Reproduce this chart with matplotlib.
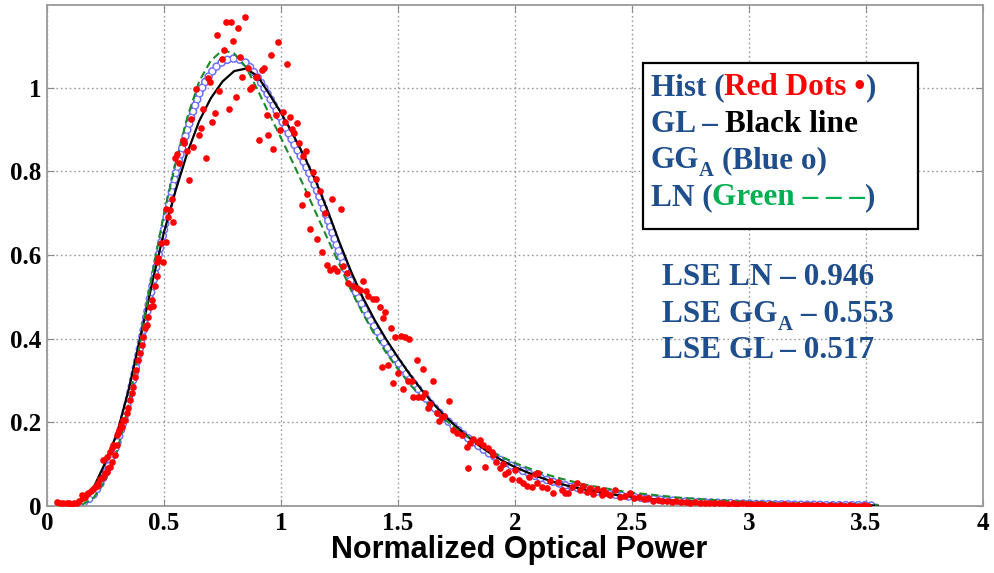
import numpy as np
import matplotlib.pyplot as plt
from matplotlib.patches import Rectangle

# fitted curves at x = 0.05 ... 3.55 (step 0.05)
gl_y = [0.000, 0.002, 0.012, 0.045, 0.105, 0.175, 0.280, 0.405, 0.535, 0.655,
        0.755, 0.845, 0.920, 0.975, 1.015, 1.040, 1.046, 1.028, 0.985, 0.940,
        0.890, 0.835, 0.775, 0.705, 0.630, 0.560, 0.498, 0.445, 0.398, 0.355,
        0.315, 0.278, 0.245, 0.215, 0.189, 0.165, 0.143, 0.124, 0.107, 0.093,
        0.081, 0.070, 0.060, 0.052, 0.045, 0.039, 0.034, 0.029, 0.025, 0.022,
        0.019, 0.016, 0.014, 0.012, 0.011, 0.009, 0.008, 0.007, 0.006, 0.006,
        0.005, 0.004, 0.004, 0.003, 0.003, 0.003, 0.002, 0.002, 0.002, 0.002,
        0.001]
ln_y = [0.000, 0.000, 0.003, 0.020, 0.062, 0.132, 0.245, 0.395, 0.555, 0.700,
        0.820, 0.930, 1.015, 1.065, 1.090, 1.082, 1.050, 0.995, 0.937, 0.880,
        0.822, 0.762, 0.700, 0.638, 0.577, 0.515, 0.460, 0.410, 0.366, 0.327,
        0.292, 0.260, 0.232, 0.207, 0.184, 0.164, 0.146, 0.130, 0.116, 0.103,
        0.092, 0.082, 0.073, 0.065, 0.058, 0.051, 0.046, 0.041, 0.036, 0.032,
        0.029, 0.026, 0.023, 0.020, 0.018, 0.016, 0.014, 0.013, 0.011, 0.010,
        0.009, 0.008, 0.007, 0.006, 0.006, 0.005, 0.005, 0.004, 0.004, 0.003,
        0.003]

# GG_A curve at x = 0.05 ... 3.55 (step 0.025)
gga_y = [0.000, 0.000, 0.001, 0.003, 0.006, 0.014, 0.028, 0.050, 0.078, 0.111,
         0.150, 0.199, 0.255, 0.318, 0.385, 0.455, 0.525, 0.594, 0.660, 0.730,
         0.795, 0.850, 0.900, 0.945, 0.985, 1.013, 1.035, 1.051, 1.062, 1.068,
         1.070, 1.067, 1.060, 1.045, 1.025, 1.003, 0.978, 0.952, 0.925, 0.899,
         0.872, 0.846, 0.820, 0.791, 0.760, 0.724, 0.685, 0.645, 0.605, 0.568,
         0.535, 0.505, 0.478, 0.452, 0.428, 0.405, 0.383, 0.362, 0.343, 0.324,
         0.305, 0.287, 0.270, 0.254, 0.238, 0.224, 0.210, 0.197, 0.185, 0.173,
         0.162, 0.151, 0.141, 0.131, 0.122, 0.114, 0.106, 0.099, 0.092, 0.086,
         0.080, 0.074, 0.069, 0.064, 0.060, 0.056, 0.052, 0.048, 0.045, 0.042,
         0.039, 0.036, 0.034, 0.031, 0.029, 0.027, 0.025, 0.023, 0.022, 0.020,
         0.019, 0.017, 0.016, 0.015, 0.014, 0.013, 0.012, 0.011, 0.011, 0.010,
         0.009, 0.009, 0.008, 0.008, 0.007, 0.007, 0.006, 0.006, 0.006, 0.005,
         0.005, 0.005, 0.004, 0.004, 0.004, 0.004, 0.003, 0.003, 0.003, 0.003,
         0.003, 0.002, 0.002, 0.002, 0.002, 0.002, 0.002, 0.002, 0.002, 0.001,
         0.001]

# histogram (red dots)
hist_x = [0.041, 0.056, 0.070, 0.084, 0.095, 0.105, 0.116, 0.127, 0.138, 0.148,
          0.155, 0.162, 0.170, 0.177, 0.187, 0.198, 0.205, 0.212, 0.219, 0.226,
          0.234, 0.241, 0.248, 0.241, 0.255, 0.255, 0.262, 0.269, 0.269, 0.276,
          0.276, 0.283, 0.291, 0.298, 0.298, 0.305, 0.309, 0.316, 0.319, 0.326,
          0.333, 0.340, 0.348, 0.355, 0.362, 0.369, 0.376, 0.380, 0.390, 0.397,
          0.405, 0.412, 0.419, 0.426, 0.433, 0.440, 0.447, 0.454, 0.462, 0.469,
          0.469, 0.476, 0.487, 0.497, 0.509, 0.509, 0.519, 0.526, 0.533, 0.540,
          0.547, 0.554, 0.565, 0.580, 0.587, 0.597, 0.607, 0.617, 0.625, 0.637,
          0.648, 0.657, 0.668, 0.678, 0.689, 0.697, 0.707, 0.718, 0.725, 0.736,
          0.746, 0.756, 0.765, 0.778, 0.786, 0.796, 0.808, 0.818, 0.825, 0.835,
          0.846, 0.860, 0.868, 0.875, 0.893, 0.899, 0.907, 0.918, 0.927, 0.939,
          0.946, 0.956, 0.967, 0.977, 0.986, 0.996, 1.007, 1.017, 1.026, 1.038,
          1.046, 1.056, 1.067, 1.078, 1.088, 1.096, 1.107, 1.112, 1.124, 1.138,
          1.148, 1.155, 1.167, 1.177, 1.188, 1.195, 1.209, 1.217, 1.228, 1.241,
          1.256, 1.266, 1.281, 1.288, 1.306, 1.323, 1.338, 1.349, 1.363, 1.373,
          1.395, 1.406, 1.423, 1.430, 1.437, 1.444, 1.459, 1.469, 1.480, 1.487,
          1.501, 1.511, 1.520, 1.530, 1.544, 1.548, 1.558, 1.566, 1.580, 1.587,
          1.601, 1.608, 1.615, 1.627, 1.637, 1.648, 1.665, 1.677, 1.687, 1.698,
          1.719, 1.737, 1.751, 1.772, 1.796, 1.800, 1.808, 1.822, 1.843, 1.850,
          1.865, 1.872, 1.886, 1.900, 1.907, 1.920, 1.936, 1.950, 1.957, 1.971,
          1.986, 2.000, 2.018, 2.036, 2.050, 2.060, 2.071, 2.085, 2.093, 2.100,
          2.114, 2.135, 2.150, 2.164, 2.185, 2.200, 2.214, 2.228, 2.245, 2.263,
          2.278, 2.290, 2.306, 2.320, 2.335, 2.350, 2.370, 2.377, 2.390, 2.406,
          2.427, 2.449, 2.470, 2.490, 2.510, 2.530, 2.550, 2.570, 2.590, 2.610,
          2.630, 2.650, 2.670, 2.690, 2.710, 2.730, 2.750, 2.770, 2.790, 2.810,
          2.830, 2.850, 2.870, 2.890, 2.910, 2.930, 2.950, 2.970, 2.990, 3.010,
          3.030, 3.050, 3.070, 3.090, 3.110, 3.130, 3.150, 3.170, 3.190, 3.210,
          3.230, 3.250, 3.270, 3.290, 3.310, 3.330, 3.350, 3.370, 3.390, 3.410,
          3.430, 3.450, 3.470, 3.490, 3.510]
hist_y = [0.010, 0.008, 0.007, 0.006, 0.007, 0.005, 0.006, 0.006, 0.012, 0.026,
          0.018, 0.022, 0.028, 0.030, 0.035, 0.040, 0.046, 0.048, 0.055, 0.064,
          0.068, 0.070, 0.078, 0.110, 0.082, 0.118, 0.090, 0.093, 0.130, 0.106,
          0.138, 0.146, 0.122, 0.146, 0.170, 0.174, 0.182, 0.194, 0.190, 0.206,
          0.206, 0.222, 0.234, 0.254, 0.270, 0.285, 0.309, 0.325, 0.349, 0.365,
          0.385, 0.405, 0.425, 0.433, 0.453, 0.477, 0.493, 0.478, 0.525, 0.549,
          0.584, 0.593, 0.628, 0.584, 0.632, 0.710, 0.692, 0.708, 0.735, 0.680,
          0.832, 0.842, 0.820, 0.876, 0.868, 0.850, 0.780, 0.926, 0.858, 0.998,
          0.888, 0.904, 0.950, 0.833, 1.023, 1.015, 0.918, 0.939, 1.127, 0.993,
          1.069, 1.091, 1.157, 0.950, 1.157, 1.112, 0.978, 1.142, 1.073, 1.026,
          1.169, 1.047, 0.998, 1.003, 1.027, 1.026, 0.876, 1.043, 1.047, 0.935,
          0.886, 1.079, 0.854, 0.935, 1.110, 0.900, 0.942, 0.918, 1.057, 0.931,
          0.901, 0.893, 0.917, 0.868, 0.720, 0.838, 0.850, 0.746, 0.662, 0.798,
          0.782, 0.638, 0.754, 0.608, 0.700, 0.577, 0.565, 0.734, 0.570, 0.561,
          0.711, 0.573, 0.557, 0.534, 0.525, 0.521, 0.517, 0.537, 0.513, 0.501,
          0.494, 0.494, 0.475, 0.333, 0.450, 0.463, 0.337, 0.425, 0.294, 0.403,
          0.319, 0.407, 0.279, 0.404, 0.300, 0.400, 0.300, 0.261, 0.349, 0.261,
          0.261, 0.328, 0.271, 0.235, 0.244, 0.300, 0.222, 0.203, 0.214, 0.216,
          0.252, 0.182, 0.175, 0.170, 0.142, 0.090, 0.150, 0.160, 0.154, 0.158,
          0.146, 0.093, 0.138, 0.130, 0.122, 0.106, 0.090, 0.100, 0.077, 0.082,
          0.064, 0.085, 0.062, 0.054, 0.048, 0.070, 0.045, 0.077, 0.054, 0.078,
          0.046, 0.042, 0.060, 0.032, 0.058, 0.038, 0.032, 0.030, 0.045, 0.054,
          0.038, 0.048, 0.034, 0.042, 0.029, 0.040, 0.026, 0.038, 0.030, 0.026,
          0.038, 0.022, 0.025, 0.030, 0.020, 0.022, 0.016, 0.018, 0.013, 0.014,
          0.011, 0.013, 0.010, 0.011, 0.009, 0.010, 0.008, 0.009, 0.007, 0.008,
          0.006, 0.007, 0.006, 0.007, 0.005, 0.006, 0.005, 0.006, 0.004, 0.005,
          0.004, 0.004, 0.003, 0.004, 0.003, 0.003, 0.004, 0.002, 0.003, 0.002,
          0.003, 0.002, 0.002, 0.003, 0.002, 0.001, 0.002, 0.001, 0.002, 0.001,
          0.002, 0.001, 0.001, 0.002, 0.001]

x_ticks = [0, 0.5, 1, 1.5, 2, 2.5, 3, 3.5, 4]
x_tick_labels = ['0', '0.5', '1', '1.5', '2', '2.5', '3', '3.5', '4']
y_ticks = [0, 0.2, 0.4, 0.6, 0.8, 1]
y_tick_labels = ['0', '0.2', '0.4', '0.6', '0.8', '1']

navy = '#1f4e8c'
serif = 'Liberation Serif'
plt.rcParams['lines.scale_dashes'] = False

line_x = np.linspace(0.05, 3.55, len(gl_y))
gga_x = np.linspace(0.05, 3.55, len(gga_y))

fig = plt.figure(figsize=(9.95, 5.73), dpi=100)
ax = fig.add_axes([47 / 995, 1 - 506 / 573, 936 / 995, 501 / 573])

# GG_A drawn as a chain of open circles along the curve
ring = (0, (0.01, 4.6))
ax.plot(gga_x, gga_y, color='#6e6eff', lw=6.2, ls=ring, dash_capstyle='round', zorder=2)
ax.plot(gga_x, gga_y, color='white', lw=4.0, ls=ring, dash_capstyle='round', zorder=2.1)
ax.plot(line_x, gl_y, color='black', lw=1.6, zorder=3)
ax.plot(line_x, ln_y, color='#1a8a2a', lw=1.5, ls=(0, (5.5, 3.0)), zorder=4)
ax.plot(hist_x, hist_y, 'o', ms=4.8, color='#ff0000', mec='none', zorder=5)

ax.set_xlim(0, 4)
ax.set_ylim(0, 1.198)
ax.set_xticks(x_ticks)
ax.set_xticklabels(x_tick_labels)
ax.set_yticks(y_ticks)
ax.set_yticklabels(y_tick_labels)
ax.grid(True, ls=(0, (1.2, 2.0)), color='#9a9a9a', lw=1.0)
ax.tick_params(direction='in', length=5, color='#8a8a8a', top=True, right=True,
               labelsize=18, pad=4)
for lab in ax.get_xticklabels() + ax.get_yticklabels():
    lab.set_fontfamily(serif)
    lab.set_fontweight('bold')
for sp in ax.spines.values():
    sp.set_color('#9a9a9a')
    sp.set_linewidth(1.3)

fig.text(519 / 995, 1 - 550 / 573, 'Normalized Optical Power', ha='center', va='center',
         fontsize=22, fontweight='bold', family='Liberation Sans')

# legend box
ax.add_patch(Rectangle((0.6368, 0.553), 0.2938, 0.331, transform=ax.transAxes,
                       facecolor='white', edgecolor='black', lw=1.6, zorder=8))

fig.canvas.draw()
rend = fig.canvas.get_renderer()
ax_w = ax.get_window_extent(rend).width
size = 22.5


def text_width(s, fs):
    t = ax.text(0, 0, s, fontsize=fs, fontweight='bold', family=serif)
    w = t.get_window_extent(rend).width
    t.remove()
    return w


gap = (text_width('a a', size) - text_width('aa', size)) / ax_w


def draw_parts(x, y, parts):
    # parts: (text, colour, kind) with kind '' normal, 'sub' subscript, 'gap' space first
    for s, c, kind in parts:
        if kind == 'gap':
            x += gap
        fs = size * 0.66 if kind == 'sub' else size
        dy = -0.017 if kind == 'sub' else 0
        t = ax.text(x, y + dy, s, color=c, fontsize=fs, fontweight='bold', family=serif,
                    transform=ax.transAxes, ha='left', va='baseline', zorder=10)
        x += t.get_window_extent(rend).width / ax_w


draw_parts(0.645, 0.820, [('Hist (', navy, ''), ('Red Dots •', '#ff0000', ''), (')', navy, '')])
draw_parts(0.645, 0.747, [('GL –', navy, ''), ('Black line', 'black', 'gap')])
draw_parts(0.645, 0.675, [('GG', navy, ''), ('A', navy, 'sub'), ('(Blue o)', navy, 'gap')])
draw_parts(0.645, 0.601, [('LN (', navy, ''), ('Green – – –', '#00b050', ''), (')', navy, '')])

draw_parts(0.657, 0.441, [('LSE LN – 0.946', navy, '')])
draw_parts(0.657, 0.368, [('LSE GG', navy, ''), ('A', navy, 'sub'), ('– 0.553', navy, 'gap')])
draw_parts(0.657, 0.295, [('LSE GL – 0.517', navy, '')])

fig.savefig('out.png', dpi=100)
